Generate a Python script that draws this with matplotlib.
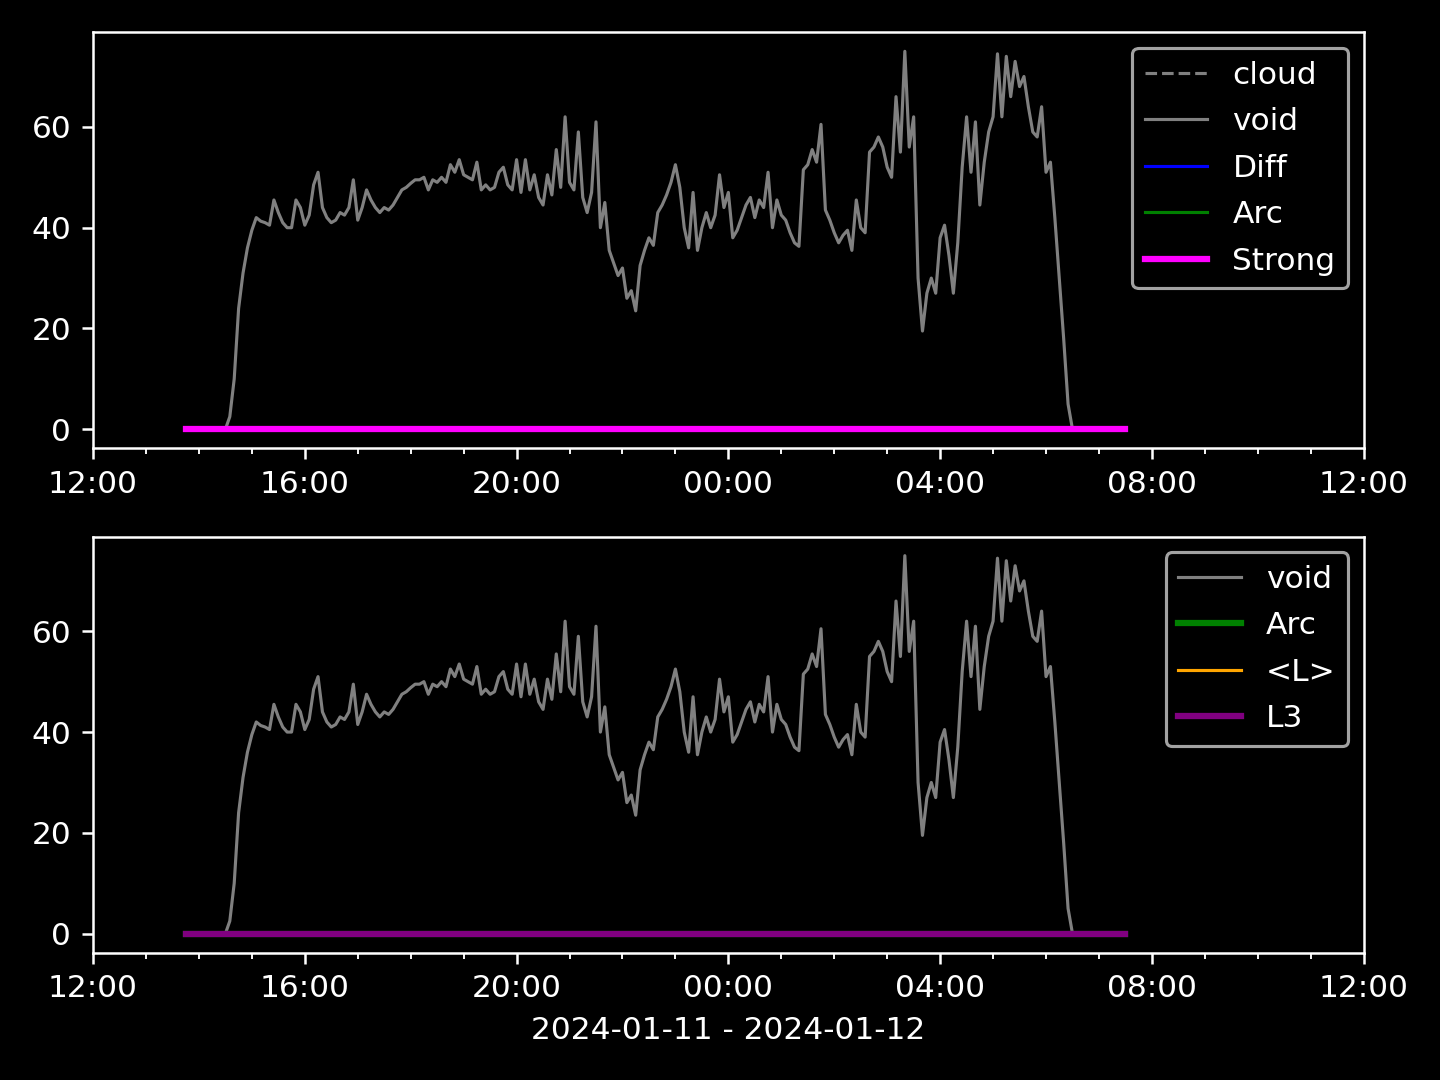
import matplotlib
matplotlib.use("Agg")
import matplotlib.pyplot as plt
import matplotlib.dates as mdates
import pandas as pd

# --------------------------------------------------------------------------
# データ（5分間隔, 2024-01-11 13:45 〜 2024-01-12 07:30）
# --------------------------------------------------------------------------
START = "2024-01-11 13:45"
STEP = "5min"

void_values = [
    0, 0, 0, 0, 0, 0, 0, 0, 0,                       # 13:45-14:25
    0, 2.5, 10, 24, 31, 36,                          # 14:30-14:55
    39.5, 42, 41.3, 41, 40.5, 45.5, 43, 41, 40, 40, 45.5, 44,   # 15:00-15:55
    40.5, 42.5, 48.5, 51, 44, 42, 41, 41.5, 43, 42.5, 44, 49.5, # 16:00-16:55
    41.5, 44, 47.5, 45.5, 44, 43, 44, 43.5, 44.5, 46, 47.5, 48, # 17:00-17:55
    48.8, 49.5, 49.5, 50, 47.5, 49.5, 49, 50, 49, 52.5, 51, 53.5,   # 18:00-18:55
    50.5, 50, 49.5, 53, 47.5, 48.5, 47.5, 48, 51, 52, 48.5, 47.5,   # 19:00-19:55
    53.5, 47, 53.5, 47.5, 50.5, 46, 44.5, 50.5, 46.5, 55.5, 48, 62, # 20:00-20:55
    49, 47.5, 59, 46, 43, 47, 61, 40, 45, 35.5, 33, 30.5,           # 21:00-21:55
    32, 26, 27.5, 23.5, 32.5, 35.5, 38, 36.5, 43, 44.5, 46.5, 49,   # 22:00-22:55
    52.5, 48, 40, 36, 47, 35.5, 40, 43, 40, 42.5, 50.5, 44,         # 23:00-23:55
    47, 38, 39.5, 42, 44.5, 46, 42, 45.5, 44, 51, 40, 45.5,         # 00:00-00:55
    42.5, 41.5, 39, 37, 36.3, 51.5, 52.5, 55.5, 53, 60.5, 43.5, 41.5,   # 01:00-01:55
    39, 37, 38.5, 39.5, 35.5, 45.5, 40, 39, 55, 56, 58, 56,         # 02:00-02:55
    52, 50, 66, 55, 75, 56, 62, 30, 19.5, 27, 30, 27,               # 03:00-03:55
    38, 40.5, 34.5, 27, 37, 52, 62, 51, 61, 44.5, 53, 59,           # 04:00-04:55
    62, 74.5, 62, 74, 66, 73, 68, 70, 64, 59, 58, 64,               # 05:00-05:55
    51, 53, 42, 30, 18, 5, 0, 0, 0, 0, 0, 0,                        # 06:00-06:55
    0, 0, 0, 0, 0, 0, 0,                                            # 07:00-07:30
]

times = pd.date_range(START, periods=len(void_values), freq=STEP)

# 他の系列はすべて 0 で一定
cloud_values = [0.0] * len(times)
diff_values = [0.0] * len(times)
arc_values = [0.0] * len(times)
strong_values = [0.0] * len(times)
mean_l_values = [0.0] * len(times)
l3_values = [0.0] * len(times)

X_MIN = pd.Timestamp("2024-01-11 12:00")
X_MAX = pd.Timestamp("2024-01-12 12:00")
X_LABEL = "2024-01-11 - 2024-01-12"


def format_axis(ax):
    ax.set_xlim(X_MIN, X_MAX)
    ax.xaxis.set_major_locator(mdates.HourLocator(byhour=range(0, 24, 4)))
    ax.xaxis.set_minor_locator(mdates.HourLocator())
    ax.xaxis.set_major_formatter(mdates.DateFormatter("%H:%M"))
    ax.legend(loc="upper right", labelspacing=0.56)


plt.style.use("dark_background")
fig, (ax1, ax2) = plt.subplots(2, 1, figsize=(6.4, 4.8), dpi=225)

# 上段
ax1.plot(times, cloud_values, color="gray", linestyle="--", linewidth=1, label="cloud")
ax1.plot(times, void_values, color="gray", linewidth=1, label="void")
ax1.plot(times, diff_values, color="blue", linewidth=1, label="Diff")
ax1.plot(times, arc_values, color="green", linewidth=1, label="Arc")
ax1.plot(times, strong_values, color="magenta", linewidth=2, label="Strong")
format_axis(ax1)

# 下段
ax2.plot(times, void_values, color="gray", linewidth=1, label="void")
ax2.plot(times, arc_values, color="green", linewidth=2, label="Arc")
ax2.plot(times, mean_l_values, color="orange", linewidth=1, label="<L>")
ax2.plot(times, l3_values, color="purple", linewidth=2, label="L3")
format_axis(ax2)
ax2.set_xlabel(X_LABEL)

fig.subplots_adjust(left=0.0646, right=0.947, top=0.970, bottom=0.118, hspace=0.213)
fig.savefig("out.png", dpi=225)
plt.close(fig)
